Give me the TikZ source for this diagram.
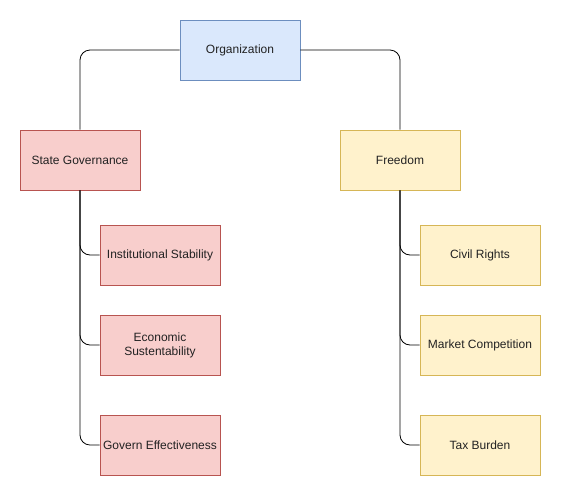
\documentclass[tikz,border=0pt]{standalone}
\usepackage{fontspec}
\setmainfont{Liberation Sans}
\definecolor{blueFill}{HTML}{DAE8FC}
\definecolor{blueLine}{HTML}{6C8EBF}
\definecolor{redFill}{HTML}{F8CECC}
\definecolor{redLine}{HTML}{B85450}
\definecolor{yellowFill}{HTML}{FFF2CC}
\definecolor{yellowLine}{HTML}{D6B656}
\definecolor{textGray}{HTML}{222222}
\begin{document}
\begin{tikzpicture}[x=1pt,y=-1pt]
\tikzstyle{box}=[draw,minimum width=120pt,minimum height=60pt,inner sep=2pt,align=center,font=\fontsize{12}{14}\selectfont,text=textGray,line width=0.8pt]
\tikzstyle{orgbox}=[box,fill=blueFill,draw=blueLine]
\tikzstyle{govbox}=[box,fill=redFill,draw=redLine]
\tikzstyle{freebox}=[box,fill=yellowFill,draw=yellowLine]
\tikzstyle{link}=[draw,line width=0.8pt,rounded corners=10pt]
\useasboundingbox (0,0) rectangle (561,496);
\node[orgbox] (org) at (240,50) {Organization};
\node[govbox] (gov) at (80,160) {State Governance};
\node[freebox] (free) at (400,160) {Freedom};
\node[govbox] (inst) at (160,255) {Institutional Stability};
\node[govbox] (econ) at (160,345) {Economic\\Sustentability};
\node[govbox] (eff) at (160,445) {Govern Effectiveness};
\node[freebox] (civil) at (480,255) {Civil Rights};
\node[freebox] (market) at (480,345) {Market Competition};
\node[freebox] (tax) at (480,445) {Tax Burden};
\draw[link] (org.west) -| (gov.north);
\draw[link] (org.east) -| (free.north);
\draw[link] (gov.south) |- (inst.west);
\draw[link] (gov.south) |- (econ.west);
\draw[link] (gov.south) |- (eff.west);
\draw[link] (free.south) |- (civil.west);
\draw[link] (free.south) |- (market.west);
\draw[link] (free.south) |- (tax.west);
\end{tikzpicture}
\end{document}
